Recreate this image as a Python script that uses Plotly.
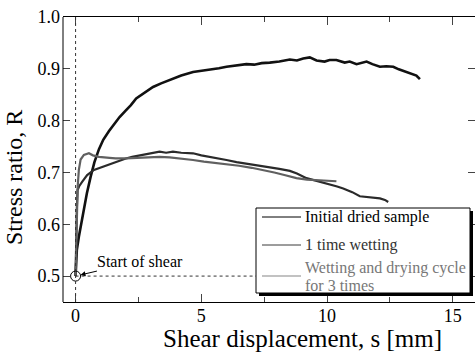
import plotly.graph_objects as go

# ---- data ----
dried_x = [0, 0.02, 0.05, 0.13, 0.22, 0.33, 0.45, 0.6, 0.75, 0.93, 1.1, 1.33, 1.55, 1.75, 2.0, 2.2, 2.41, 2.7,
           3.08, 3.4, 3.87, 4.2, 4.67, 5.0, 5.33, 5.7, 6.0, 6.4, 6.79, 7.1, 7.4, 7.72, 8.1, 8.52, 8.8, 9.05,
           9.31, 9.58, 9.9, 10.1, 10.37, 10.7, 10.9, 11.17, 11.4, 11.57, 11.8, 12.1, 12.35, 12.63, 12.85,
           13.02, 13.2, 13.42, 13.55, 13.69]
dried_y = [0.5, 0.53, 0.55, 0.576, 0.6, 0.634, 0.66, 0.692, 0.72, 0.745, 0.763, 0.78, 0.795, 0.807, 0.82, 0.83,
           0.843, 0.852, 0.865, 0.872, 0.881, 0.887, 0.894, 0.896, 0.899, 0.901, 0.904, 0.906, 0.909, 0.908,
           0.911, 0.912, 0.914, 0.918, 0.916, 0.92, 0.922, 0.916, 0.914, 0.917, 0.917, 0.912, 0.914, 0.909,
           0.912, 0.914, 0.909, 0.904, 0.905, 0.904, 0.899, 0.896, 0.894, 0.89, 0.887, 0.88]

wet1_x = [0, 0.02, 0.05, 0.08, 0.15, 0.26, 0.46, 0.73, 1.06, 1.3, 1.59, 2.0, 2.25, 2.68, 3.0, 3.34, 3.6, 3.87,
          4.2, 4.67, 5.0, 5.33, 5.7, 6.0, 6.4, 6.79, 7.1, 7.45, 7.8, 8.1, 8.52, 8.8, 9.18, 9.6, 10.1, 10.4,
          10.64, 11.0, 11.3, 11.7, 12.1, 12.3, 12.43]
wet1_y = [0.5, 0.58, 0.63, 0.666, 0.674, 0.682, 0.695, 0.705, 0.711, 0.715, 0.721, 0.727, 0.73, 0.734, 0.737,
          0.74, 0.738, 0.74, 0.738, 0.737, 0.733, 0.73, 0.728, 0.724, 0.72, 0.717, 0.716, 0.713, 0.71, 0.707,
          0.703, 0.698, 0.689, 0.684, 0.678, 0.673, 0.669, 0.662, 0.654, 0.652, 0.65, 0.647, 0.643]

wd3_x = [0, 0.03, 0.08, 0.13, 0.2, 0.33, 0.53, 0.69, 0.93, 1.35, 1.59, 2.0, 2.5, 2.94, 3.34, 3.74, 4.2, 4.67,
         5.1, 5.6, 6.0, 6.5, 7.0, 7.45, 7.9, 8.3, 8.78, 9.2, 9.58, 10.0, 10.37]
wd3_y = [0.5, 0.6, 0.67, 0.705, 0.725, 0.734, 0.737, 0.733, 0.73, 0.728, 0.727, 0.727, 0.728, 0.728, 0.73,
         0.729, 0.727, 0.724, 0.721, 0.718, 0.717, 0.713, 0.709, 0.705, 0.7, 0.695, 0.689, 0.686, 0.685,
         0.684, 0.683]

legend_names = [["Initial dried sample"], ["1 time wetting"], ["Wetting and drying cycle", "for 3 times"]]
line_colors = ["#111111", "#2a2a2a", "#606060"]
legend_colors = ["#000000", "#3a3a3a", "#858585"]
text_colors = ["#000000", "#333333", "#777777"]

FONT = "Liberation Serif, Times New Roman, serif"

# pixel -> paper helpers (plot area: x 63..475, y 17..302)
def px(p):
    return (p - 63) / 412

def py(p):
    return (302 - p) / 285

fig = go.Figure()
series = [(dried_x, dried_y, 2.6), (wet1_x, wet1_y, 2.2), (wd3_x, wd3_y, 2.2)]
for (sx, sy, w), c, nm in zip(series, line_colors, legend_names):
    fig.add_trace(go.Scatter(x=sx, y=sy, mode="lines", line=dict(color=c, width=w),
                             name=" ".join(nm), showlegend=False))

# start point
fig.add_trace(go.Scatter(x=[0], y=[0.5], mode="markers", showlegend=False,
                         marker=dict(symbol="circle-open", size=10, color="black", line=dict(width=1))))

shapes = [
    dict(type="line", xref="x", yref="paper", x0=0, x1=0, y0=0, y1=1,
         line=dict(color="#333", width=1, dash="dot")),
    dict(type="line", xref="x", yref="y", x0=0, x1=15.8, y0=0.5, y1=0.5,
         line=dict(color="#333", width=1, dash="dot")),
    dict(type="line", xref="paper", yref="paper", x0=0, x1=0, y0=0, y1=1,
         line=dict(color="black", width=1)),
    # legend shadow and box
    dict(type="rect", xref="paper", yref="paper", x0=px(259), x1=px(473), y0=py(296), y1=py(211),
         fillcolor="black", line=dict(width=0), layer="above"),
    dict(type="rect", xref="paper", yref="paper", x0=px(256), x1=px(470), y0=py(293), y1=py(208),
         fillcolor="white", line=dict(color="black", width=1), layer="above"),
]

annotations = [
    dict(text="Shear displacement, s [mm]", xref="paper", yref="paper",
         x=px(302), y=py(338), xanchor="center", yanchor="middle", showarrow=False,
         font=dict(family=FONT, size=25)),
    dict(text="Stress ratio, R", xref="paper", yref="paper", textangle=-90,
         x=px(14), y=py(178), xanchor="center", yanchor="middle", showarrow=False,
         font=dict(family=FONT, size=24)),
    dict(text="Start of shear", x=0, y=0.5, xref="x", yref="y", ax=64, ay=-15,
         showarrow=True, arrowhead=2, arrowsize=1, arrowwidth=1, arrowcolor="black",
         standoff=5, font=dict(family=FONT, size=16)),
]

# manual legend
line_y = [217, 245, 276]
text_rows = [[217], [245], [268, 285]]
for ly, rows, lc, tc, nm in zip(line_y, text_rows, legend_colors, text_colors, legend_names):
    shapes.append(dict(type="line", xref="paper", yref="paper", x0=px(262), x1=px(301),
                       y0=py(ly), y1=py(ly), line=dict(color=lc, width=1), layer="above"))
    for ry, t in zip(rows, nm):
        annotations.append(dict(text=t, xref="paper", yref="paper", x=px(303), y=py(ry),
                                xanchor="left", yanchor="middle", showarrow=False,
                                font=dict(family=FONT, size=16, color=tc)))

fig.update_layout(
    width=475, height=356,
    margin=dict(l=63, r=0, t=17, b=54),
    paper_bgcolor="white", plot_bgcolor="white",
    font=dict(family=FONT, size=18, color="black"),
    shapes=shapes,
    showlegend=False,
    annotations=annotations,
)

fig.update_xaxes(range=[-0.5, 15.88], tickvals=[0, 5, 10, 15], ticks="inside", ticklen=8,
                 tickcolor="#444", showline=True, linecolor="black", linewidth=1, mirror="ticks",
                 showgrid=False, zeroline=False, ticklabelstandoff=-3,
                 minor=dict(tickvals=[2.5, 7.5, 12.5], ticks="inside", ticklen=5, tickcolor="#444"),
                 tickfont=dict(family=FONT, size=18))
fig.update_yaxes(range=[0.45, 1.0], tickvals=[0.5, 0.6, 0.7, 0.8, 0.9, 1.0], tickformat=".1f",
                 ticks="inside", ticklen=7, tickcolor="#444", showline=False, mirror="ticks",
                 showgrid=False, zeroline=False, ticklabelstandoff=2,
                 tickfont=dict(family=FONT, size=18))

fig.write_html("out.html")
